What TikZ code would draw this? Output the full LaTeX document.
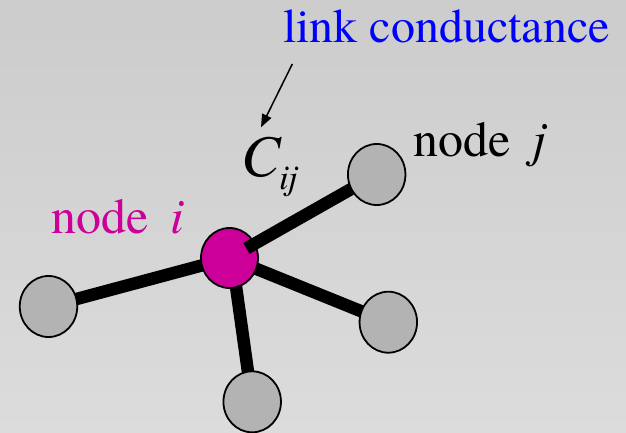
\documentclass[tikz,border=0pt]{standalone}
\usepackage{fontspec}
\setmainfont{TeX Gyre Termes}
\usetikzlibrary{shapes.geometric,arrows.meta,calc}
\definecolor{bgtop}{RGB}{204,204,204}
\definecolor{bgbot}{RGB}{220,220,220}
\definecolor{nodegray}{RGB}{179,179,179}
\definecolor{hubmag}{RGB}{204,0,153}
\definecolor{labelblue}{RGB}{0,0,255}
\tikzset{
  vertex/.style={ellipse, draw=black, line width=1.8pt, fill=nodegray,
    minimum width=57.5pt, minimum height=61pt, inner sep=0pt},
  hub/.style={vertex, fill=hubmag, minimum width=57pt, minimum height=60pt},
  link/.style={line width=12.5pt, black, line cap=butt},
  lbl/.style={anchor=base west, inner sep=0pt, font=\fontsize{50}{50}\selectfont},
}
\begin{document}
\begin{tikzpicture}[x=1pt, y=-1pt]
  % background
  \shade[top color=bgtop, bottom color=bgbot] (0,0) rectangle (626,433);
  \useasboundingbox (0,0) rectangle (626,433);

  % vertex centres
  \coordinate (ci) at (229.5,258);
  \coordinate (cj) at (376.7,174.5);
  \coordinate (cl) at (48.5,306.5);
  \coordinate (cr) at (388.3,322.2);
  \coordinate (cb) at (252.2,401.8);

  % links running under the hub
  \draw[link] (ci) -- (cl);
  \draw[link] (ci) -- (cr);
  \draw[link] (232,258) -- (cb);

  % hub
  \node[hub] (i) at (ci) {};

  % the link i--j, drawn over the hub
  \draw[link] (cj) -- ($(ci)!0.115!(cj)$);

  % outer vertices
  \node[vertex] (j) at (cj) {};
  \node[vertex] (l) at (cl) {};
  \node[vertex] (r) at (cr) {};
  \node[vertex] (b) at (cb) {};

  % labels
  \node[lbl, font=\fontsize{48}{48}\selectfont, text=labelblue] (lc) at (283,42.7) {link conductance};
  \node[lbl] (lj) at (413,156.7) {node\hspace{0.45em}\textit{j}};
  \node[lbl, text=hubmag] (li) at (51,233.3) {node\hspace{0.45em}\textit{i}};
  \node[anchor=base west, inner sep=0pt, font=\fontsize{59}{59}\selectfont\itshape] (cij) at (241,176) {C};
  \node[anchor=base west, inner sep=0pt, font=\fontsize{35}{35}\selectfont\itshape] (sub) at (279,189) {ij};

  % arrow to the conductance symbol
  \coordinate (atail) at (292.3,64);
  \coordinate (ahead) at (261,127.3);
  \draw[line width=1.5pt, -{Triangle[length=13pt,width=10pt]}] (atail) -- (ahead);
\end{tikzpicture}
\end{document}
